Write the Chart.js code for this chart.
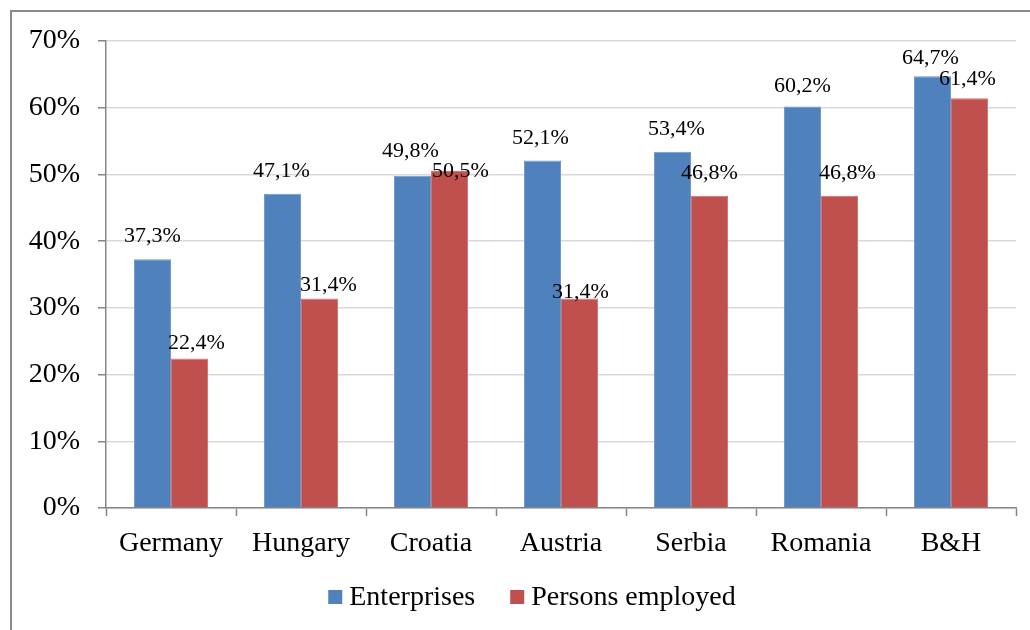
<!DOCTYPE html>
<html>
<head>
<meta charset="utf-8">
<script src="https://cdn.jsdelivr.net/npm/chart.js@4/dist/chart.umd.min.js"></script>
<style>
  html, body { margin: 0; padding: 0; background: #ffffff; }
  #wrap { width: 1030px; height: 630px; position: relative; }
</style>
</head>
<body>
<div id="wrap"><canvas id="c" width="1030" height="630"></canvas></div>
<script>
// ---- data ----
const categories = ['Germany', 'Hungary', 'Croatia', 'Austria', 'Serbia', 'Romania', 'B&H'];
const enterprises = [37.3, 47.1, 49.8, 52.1, 53.4, 60.2, 64.7];
const personsEmployed = [22.4, 31.4, 50.5, 31.4, 46.8, 46.8, 61.4];
const seriesNames = ['Enterprises', 'Persons employed'];
const yTicks = [0, 10, 20, 30, 40, 50, 60, 70];

// ---- styles ----
const FONT = "'Liberation Serif', 'Times New Roman', serif";
const BLUE = '#4f81bd';
const RED = '#c0504d';
const AXIS = '#868686';
const GRID = '#d9d9d9';
// per-label nudges [dx, dy above bar top] (label placement as in the original)
const labelNudge = [
  [[0, 25], [-1, 24], [-2, 26], [-2, 24], [4, 24], [0, 22], [-2, 20]],
  [[7, 17], [9, 15], [11, 2], [1, 8], [0, 24], [8, 24], [-2, 21]]
];

const fmt = v => v.toFixed(1).replace('.', ',') + '%';

const framePlugin = {
  id: 'frame',
  beforeDraw(chart) {
    const ctx = chart.ctx;
    ctx.save();
    ctx.fillStyle = '#ffffff';
    ctx.fillRect(0, 0, chart.width, chart.height);
    ctx.strokeStyle = '#8a8a8a';
    ctx.lineWidth = 2;
    ctx.beginPath();
    ctx.moveTo(11, chart.height);
    ctx.lineTo(11, 11);
    ctx.lineTo(chart.width, 11);
    ctx.stroke();
    ctx.restore();
  }
};

const labelPlugin = {
  id: 'barLabels',
  afterDatasetsDraw(chart) {
    const ctx = chart.ctx;
    ctx.save();
    ctx.font = "22px " + FONT;
    ctx.fillStyle = '#000000';
    ctx.textAlign = 'center';
    ctx.textBaseline = 'alphabetic';
    chart.data.datasets.forEach((ds, di) => {
      const meta = chart.getDatasetMeta(di);
      meta.data.forEach((el, i) => {
        const n = labelNudge[di][i];
        ctx.fillText(fmt(ds.data[i]), el.x + n[0], el.y - n[1] + 7.5);
      });
    });
    ctx.restore();
  }
};

const legendPlugin = {
  id: 'customLegend',
  afterDraw(chart) {
    const ctx = chart.ctx;
    ctx.save();
    ctx.font = "28px " + FONT;
    ctx.textBaseline = 'middle';
    ctx.textAlign = 'left';
    const box = 14, gap = 7, itemGap = 35;
    const items = chart.data.datasets.map(ds => ({ text: ds.label, color: ds.backgroundColor, w: ctx.measureText(ds.label).width }));
    let total = 0;
    items.forEach((it, i) => { total += box + gap + it.w + (i < items.length - 1 ? itemGap : 0); });
    let x = 532 - total / 2;
    const cy = 597;
    items.forEach(it => {
      ctx.fillStyle = it.color;
      ctx.fillRect(x, cy - box / 2, box, box);
      x += box + gap;
      ctx.fillStyle = '#000000';
      ctx.fillText(it.text, x, cy + 1);
      x += it.w + itemGap;
    });
    ctx.restore();
  }
};

new Chart(document.getElementById('c'), {
  type: 'bar',
  data: {
    labels: categories,
    datasets: [
      { label: seriesNames[0], data: enterprises, backgroundColor: BLUE, borderColor: '#6f97cb', borderWidth: 1 },
      { label: seriesNames[1], data: personsEmployed, backgroundColor: RED, borderColor: '#d07472', borderWidth: 1 }
    ]
  },
  options: {
    responsive: false,
    devicePixelRatio: 1,
    animation: false,
    events: [],
    layout: { padding: { left: 0, top: 41, right: 14, bottom: 62 } },
    datasets: { bar: { categoryPercentage: 0.57, barPercentage: 1.0 } },
    plugins: {
      legend: { display: false },
      tooltip: { enabled: false },
      title: { display: false }
    },
    scales: {
      x: {
        offset: true,
        grid: { display: true, drawOnChartArea: false, offset: true, tickLength: 8, tickColor: AXIS, tickWidth: 1.5 },
        border: { display: true, color: AXIS, width: 1.5 },
        ticks: { color: '#000000', font: { family: FONT, size: 28 }, padding: 11, maxRotation: 0 },
        afterFit(scale) { scale.height = 60; }
      },
      y: {
        min: 0,
        max: 70,
        afterBuildTicks(scale) { scale.ticks = yTicks.map(v => ({ value: v })); },
        grid: { color: GRID, lineWidth: 1.5, tickLength: 8, tickColor: AXIS, tickWidth: 1.5 },
        border: { display: true, color: AXIS, width: 1.5 },
        ticks: { color: '#000000', font: { family: FONT, size: 28 }, padding: 18, callback: v => v + '%' },
        afterFit(scale) { scale.width = 106; }
      }
    }
  },
  plugins: [framePlugin, labelPlugin, legendPlugin]
});
</script>
</body>
</html>
